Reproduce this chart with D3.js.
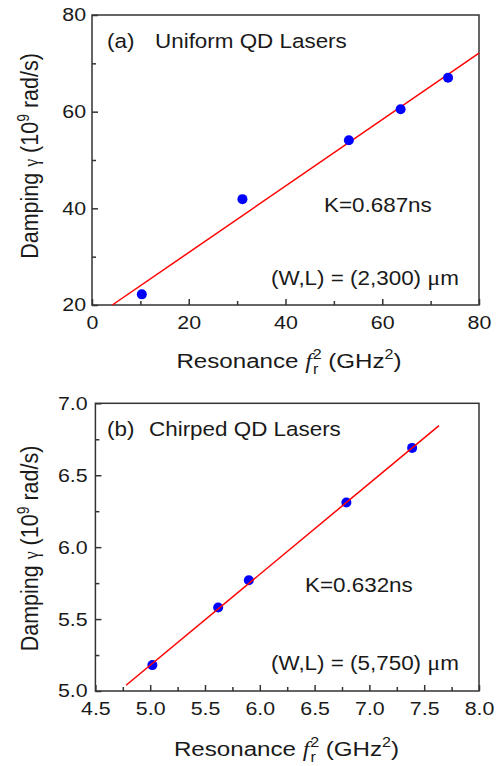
<!DOCTYPE html>
<html>
<head>
<meta charset="utf-8">
<script src="https://cdn.jsdelivr.net/npm/d3@7"></script>
<style>
  body { margin: 0; background: #fff; }
  svg { display: block; font-family: 'Liberation Sans', Arial, sans-serif; }
  text { fill: #1a1a1a; }
</style>
</head>
<body>
<svg id="chart" width="501" height="766"></svg>
<script>
// (a) uniform QD lasers
const resA = [10.3, 31.1, 53.1, 63.8, 73.6];
const dampA = [22.2, 41.9, 54.1, 60.5, 67.0];
const fitResA = [4.2, 80];
const fitDampA = [20, 72.1];
const xTicksA = [0, 20, 40, 60, 80];
const xMinorA = [10, 30, 50, 70];
const yTicksA = [20, 40, 60, 80];
const yMinorA = [30, 50, 70];

// (b) chirped QD lasers
const resB = [5.02, 5.62, 5.90, 6.79, 7.39];
const dampB = [5.18, 5.58, 5.77, 6.31, 6.69];
const fitResB = [4.78, 7.635];
const fitDampB = [5.04, 6.845];
const xTicksB = [4.5, 5.0, 5.5, 6.0, 6.5, 7.0, 7.5, 8.0];
const xMinorB = [4.75, 5.25, 5.75, 6.25, 6.75, 7.25, 7.75];
const yTicksB = [5.0, 5.5, 6.0, 6.5, 7.0];
const yMinorB = [5.25, 5.75, 6.25, 6.75];

// the original figure is a bit stretched sideways, so text gets the same squeeze
const SX = 1.15;
const svg = d3.select('#chart');

function label(parent, x, y, size, anchor, rotate) {
  return parent.append('text')
    .attr('transform', 'translate(' + x + ',' + y + ') scale(' + SX + ',1)' + (rotate ? ' rotate(-90)' : ''))
    .attr('text-anchor', anchor)
    .style('font-size', size + 'px');
}

function styleAxis(sel) {
  sel.select('.domain').remove();
  sel.selectAll('line').attr('stroke', '#333').attr('stroke-width', 1.5);
  sel.selectAll('text')
    .style('font-size', '18.6px')
    .style('font-family', "'Liberation Sans', Arial, sans-serif")
    .attr('fill', '#1a1a1a');
}

function drawPanel(p) {
  const x = d3.scaleLinear().domain(p.xDomain).range([p.left, p.right]);
  const y = d3.scaleLinear().domain(p.yDomain).range([p.bottom, p.top]);
  const g = svg.append('g');

  g.append('g')
    .attr('transform', 'translate(0,' + p.bottom + ')')
    .call(d3.axisBottom(x).tickValues(p.xMinor).tickSizeInner(-4).tickSizeOuter(0).tickFormat(''))
    .call(styleAxis);
  g.append('g')
    .attr('transform', 'translate(' + p.left + ',0)')
    .call(d3.axisLeft(y).tickValues(p.yMinor).tickSizeInner(-4).tickSizeOuter(0).tickFormat(''))
    .call(styleAxis);

  const xAxis = g.append('g')
    .attr('transform', 'translate(0,' + p.bottom + ')')
    .call(d3.axisBottom(x).tickValues(p.xTicks).tickSizeInner(-6).tickSizeOuter(0).tickPadding(11).tickFormat(p.fmt))
    .call(styleAxis);
  xAxis.selectAll('text').attr('transform', 'scale(' + SX + ',1)');

  const yAxis = g.append('g')
    .attr('transform', 'translate(' + p.left + ',0)')
    .call(d3.axisLeft(y).tickValues(p.yTicks).tickSizeInner(-6).tickSizeOuter(0).tickPadding(p.yPad).tickFormat(p.fmt))
    .call(styleAxis);
  yAxis.selectAll('text').attr('transform', 'scale(' + SX + ',1)');

  g.append('rect')
    .attr('x', p.left)
    .attr('y', p.top)
    .attr('width', p.right - p.left)
    .attr('height', p.bottom - p.top)
    .attr('fill', 'none')
    .attr('stroke', '#333')
    .attr('stroke-width', 1.5);

  const line = d3.line().x(d => x(d[0])).y(d => y(d[1]));
  const fit = d3.zip(p.fitX, p.fitY);
  const pts = d3.zip(p.xs, p.ys);

  const drawFit = () => g.append('path')
    .datum(fit)
    .attr('d', line)
    .attr('fill', 'none')
    .attr('stroke', '#ff0000')
    .attr('stroke-width', 1.5);

  if (!p.lineOnTop) drawFit();
  g.selectAll('.dot')
    .data(pts)
    .enter()
    .append('circle')
    .attr('class', 'dot')
    .attr('cx', d => x(d[0]))
    .attr('cy', d => y(d[1]))
    .attr('r', 5)
    .attr('fill', '#0000ff');
  if (p.lineOnTop) drawFit();

  // annotations
  label(g, 107, p.top + 32.5, 19.5, 'start').text(p.tag);
  label(g, p.nameX, p.top + 32.5, 19.5, 'start').text(p.name);
  label(g, p.kX, p.kY, 19.5, 'start').text(p.k);
  const wl = label(g, 271, p.wlY, 19.5, 'start');
  wl.append('tspan').text(p.wl + ' ');
  wl.append('tspan').style('font-family', "'Liberation Serif', serif").style('font-size', '21px').text('\u03bc');
  wl.append('tspan').text('m');

  // y title
  const yt = label(g, 38, p.yTitleY, 21.5, 'middle', true);
  yt.append('tspan').text('Damping ');
  yt.append('tspan').style('font-family', "'Liberation Serif', serif").style('font-size', '18px').text('\u03b3');
  yt.append('tspan').text(' (10');
  yt.append('tspan').attr('dy', -8).style('font-size', '14px').text('9');
  yt.append('tspan').attr('dy', 8).text(' rad/s)');

  // x title
  const xt = label(g, p.xTitleX, p.xTitleY, 21, 'middle');
  xt.append('tspan').text('Resonance ');
  xt.append('tspan').style('font-family', "'Liberation Serif', serif").style('font-style', 'italic').text('f');
  xt.append('tspan').attr('dx', 1).attr('dy', 6).style('font-size', '14px').text('r');
  xt.append('tspan').attr('dx', -5).attr('dy', -15).style('font-size', '14px').text('2');
  xt.append('tspan').attr('dy', 9).text(' (GHz');
  xt.append('tspan').attr('dy', -9).style('font-size', '14px').text('2');
  xt.append('tspan').attr('dy', 9).text(')');
}

drawPanel({
  xs: resA, ys: dampA, fitX: fitResA, fitY: fitDampA,
  xDomain: [0, 80], yDomain: [20, 80],
  xTicks: xTicksA, xMinor: xMinorA, yTicks: yTicksA, yMinor: yMinorA,
  fmt: d3.format('d'),
  left: 92, right: 479, top: 15, bottom: 305, yPad: 5.2,
  tag: '(a)', name: 'Uniform QD Lasers', nameX: 155,
  k: 'K=0.687ns', kX: 324, kY: 211.5,
  wl: '(W,L) = (2,300)', wlY: 285,
  yTitleY: 156, xTitleX: 289, xTitleY: 368,
  lineOnTop: false
});

drawPanel({
  xs: resB, ys: dampB, fitX: fitResB, fitY: fitDampB,
  xDomain: [4.5, 8.0], yDomain: [5.0, 7.0],
  xTicks: xTicksB, xMinor: xMinorB, yTicks: yTicksB, yMinor: yMinorB,
  fmt: d3.format('.1f'),
  left: 95.4, right: 479, top: 403.3, bottom: 691, yPad: 6.7,
  tag: '(b)', name: 'Chirped QD Lasers', nameX: 149,
  k: 'K=0.632ns', kX: 305, kY: 591.5,
  wl: '(W,L) = (5,750)', wlY: 670,
  yTitleY: 548.5, xTitleX: 286.5, xTitleY: 755.5,
  lineOnTop: true
});
</script>
</body>
</html>
